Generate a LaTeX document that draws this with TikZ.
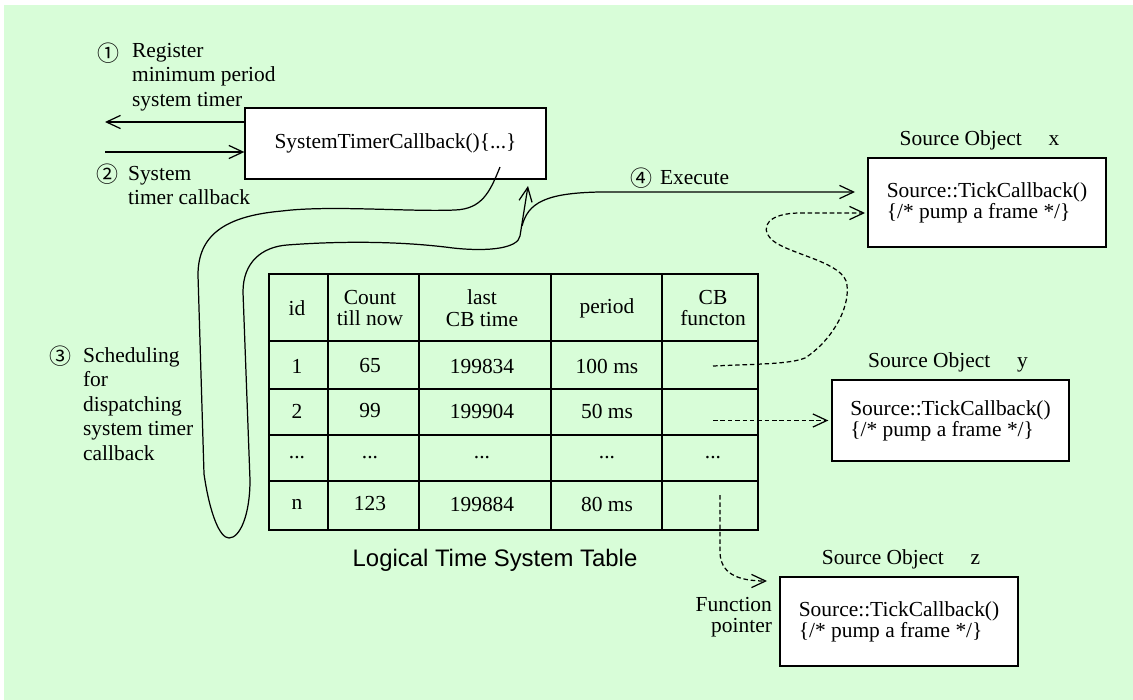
\documentclass[tikz,border=0pt]{standalone}
\usepackage{fontspec}
\setmainfont{Liberation Serif}
\setsansfont{Liberation Sans}
\newfontfamily\circfont{Noto Sans CJK JP}
\usepackage{tikz}
\usetikzlibrary{arrows.meta, positioning}
\definecolor{bggreen}{RGB}{216,253,216}
\newcommand{\rowdots}{...}

\begin{document}
\begin{tikzpicture}[x=0.02cm, y=-0.02cm, font=\fontsize{12.2pt}{13.9pt}\selectfont,
                    wire/.style = {line width=0.7pt, -{Straight Barb[length=8pt, width=7.5pt]}},
                    ptr/.style = {wire, dash pattern=on 2.6pt off 1.6pt},
                    box/.style = {draw, line width=0.8pt, fill=white, align=left,
                                  font=\fontsize{12.2pt}{12pt}\selectfont},
                    lbl/.style = {inner sep=1pt},
                    circ/.style = {inner sep=1pt, font=\circfont\fontsize{12.5pt}{12.5pt}\selectfont},
                    cell/.style = {align=center, font=\fontsize{12.2pt}{12.5pt}\selectfont},
                    grid/.style = {line width=0.8pt}]
    \fill[white] (0,0) rectangle (1133,700);
    \fill[bggreen] (4,5) rectangle (1133,700);

    \node[box, align=center, minimum width=6.02cm, minimum height=1.42cm] (timer) at (395.5,143.5) {SystemTimerCallback()\{...\}};

    \node[circ] (n1) at (108,53) {①};
    \node[lbl, anchor=west, align=left] (reg) at (130,77) {Register\\minimum period\\system timer};
    \node[circ] (n2) at (107,174) {②};
    \node[lbl, anchor=west, align=left] (stc) at (126,185.5) {System\\timer callback};
    \node[circ] (n3) at (60,356) {③};
    \node[lbl, anchor=west, align=left] (sch) at (81,404) {Scheduling\\for\\dispatching\\system timer\\callback};
    \node[circ] (n4) at (641,178) {④};
    \node[lbl, anchor=west] (exe) at (658,178) {Execute};

    \node[box, minimum width=4.76cm, minimum height=1.78cm] (sx) at (987,202.5) {Source::TickCallback()\\\{/* pump a frame */\}};
    \node[box, minimum width=4.74cm, minimum height=1.62cm] (sy) at (950.5,420.5) {Source::TickCallback()\\\{/* pump a frame */\}};
    \node[box, minimum width=4.76cm, minimum height=1.78cm] (sz) at (899,621.5) {Source::TickCallback()\\\{/* pump a frame */\}};
    \node[lbl, above=0.1cm of sx, xshift=-0.15cm] (sxl) {Source Object\quad\ x};
    \node[lbl, above=0.1cm of sy, xshift=-0.05cm] (syl) {Source Object\quad\ y};
    \node[lbl, above=0.1cm of sz, xshift=0.04cm] (szl) {Source Object\quad\ z};
    \node[lbl, anchor=east, align=right, font=\fontsize{12.2pt}{12pt}\selectfont] (fp) at (774,617.5) {Function\\pointer};

    \draw[grid] (269,274) rectangle (758,530);
    \foreach \x in {328,419,551,662} \draw[grid] (\x,274) -- (\x,530);
    \foreach \y in {341,389,435,481} \draw[grid] (269,\y) -- (758,\y);
    \foreach \k/\y/\a/\b/\c/\d/\e in {h/308/id/{Count\\till now}/{last\\CB time}/period/{CB\\functon},
                                      1/366/1/65/199834/100 ms/, 2/411/2/99/199904/50 ms/,
                                      d/458/\rowdots/\rowdots/\rowdots/\rowdots/\rowdots, n/504/n/123/199884/80 ms/} {
        \node[cell] (id-\k) at (297,\y) {\a};
        \node[cell] (cnt-\k) at (370,\y) {\b};
        \node[cell] (last-\k) at (482,\y) {\c};
        \node[cell] (per-\k) at (607,\y) {\d};
        \node[cell] (cb-\k) at (713,\y) {\e};
    }
    \node[lbl, font=\sffamily\fontsize{13.6pt}{14pt}\selectfont] (title) at (495,560) {Logical Time System Table};

    \coordinate (regend) at (105,122);
    \coordinate (cbstart) at (105,152);
    \coordinate (cs) at (500,167);
    \coordinate (up) at (528,186);
    \coordinate (br) at (522,226);
    \coordinate (ex) at (855,192);
    \coordinate (fx) at (865,213);
    \coordinate (pn) at (720,495);
    \coordinate (fz) at (767,581);

    \draw[wire] (timer.west |- regend) -- (regend);
    \draw[wire] (cbstart) -- (timer.west |- cbstart);
    \draw[wire] (cs) .. controls (490,192) and (482,209) .. (455,210)
        .. controls (410,212) and (330,205) .. (282,211)
        .. controls (225,216) and (198,235) .. (198,275) -- (204,474)
        .. controls (210,515) and (220,538) .. (229,538)
        .. controls (240,538) and (250,515) .. (250,480) -- (243,292)
        .. controls (243,262) and (262,247) .. (287,245)
        .. controls (340,241) and (400,241) .. (453,248)
        .. controls (490,252) and (518,248) .. (520,236) -- (up);
    \draw[wire] (br) .. controls (528,203) and (545,193) .. (600,192) -- (ex);
    \draw[ptr] (cb-1.center) .. controls (760,364) and (790,364) .. (805,358)
        .. controls (830,342) and (850,310) .. (847,285)
        .. controls (845,262) and (790,255) .. (772,240)
        .. controls (758,226) and (770,213) .. (800,213) -- (fx);
    \draw[ptr, shorten >=0.06cm] (cb-2.center |- sy.west) -- (sy.west);
    \draw[ptr] (pn) -- (720,553) .. controls (721,572) and (735,581) .. (fz);
\end{tikzpicture}
\end{document}
